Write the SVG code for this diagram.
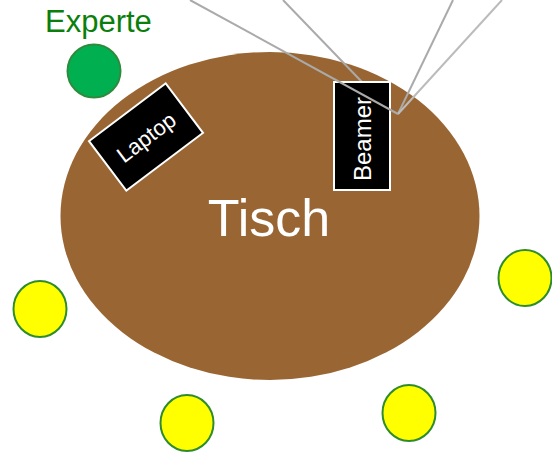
<svg xmlns="http://www.w3.org/2000/svg" width="552" height="456" viewBox="0 0 552 456">
<style>
text{font-family:"Liberation Sans",Arial,sans-serif}
.seat{fill:#ffff00;stroke:#2e8b2e;stroke-width:2}
.dev{fill:#000;stroke:#fff;stroke-width:2}
.lbl{fill:#fff}
.beam{stroke:#aaa;stroke-width:2;fill:none}
</style>
<rect width="552" height="456" fill="#fff"/>
<g id="tisch">
<ellipse cx="270" cy="216" rx="209.5" ry="164" fill="#996633"/>
<text x="269" y="236" font-size="52" text-anchor="middle" class="lbl">Tisch</text>
</g>
<g id="experte">
<text x="45" y="32" font-size="31" fill="#0b7f0b">Experte</text>
<circle cx="94" cy="71" r="26.5" fill="#00b050" stroke="#2e8b3e" stroke-width="2"/>
</g>
<g id="laptop" transform="translate(146 137) rotate(-37)">
<rect x="-48" y="-31" width="96" height="62" class="dev"/>
<text x="0" y="8" font-size="22" text-anchor="middle" class="lbl">Laptop</text>
</g>
<g id="seat1"><ellipse cx="40" cy="309" rx="26.5" ry="28" class="seat"/></g>
<g id="seat2"><ellipse cx="187" cy="423" rx="26.5" ry="28" class="seat"/></g>
<g id="seat3"><ellipse cx="409" cy="413" rx="26.5" ry="28" class="seat"/></g>
<g id="seat4"><ellipse cx="525" cy="278" rx="26.5" ry="28" class="seat"/></g>
<g id="connectors">
<line x1="283" y1="0" x2="362" y2="82" class="beam"/>
</g>
<g id="beamer">
<rect x="334" y="82" width="56" height="108" class="dev"/>
<text transform="translate(371 139) rotate(-90)" x="0" y="0" font-size="24" text-anchor="middle" class="lbl">Beamer</text>
</g>
<g id="beams">
<line x1="190" y1="0" x2="398" y2="114" class="beam"/>
<line x1="453" y1="0" x2="398" y2="114" class="beam"/>
<line x1="502" y1="0" x2="398" y2="114" class="beam" style="stroke:#bbb"/>
</g>
</svg>
